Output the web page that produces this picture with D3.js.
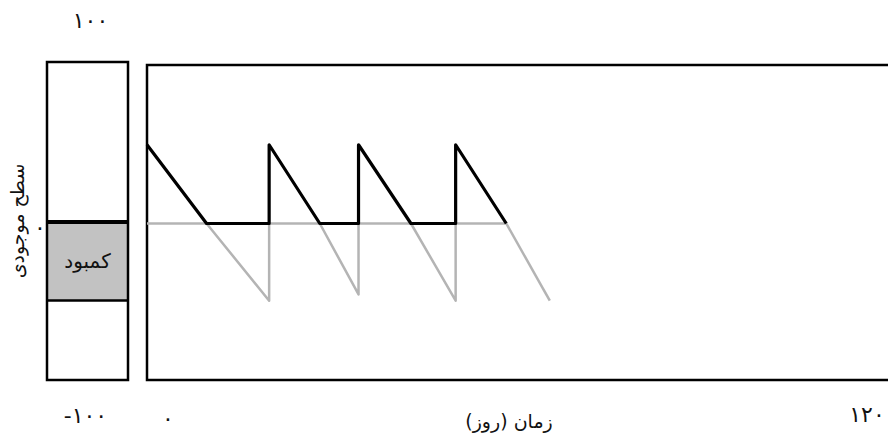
<!DOCTYPE html>
<html lang="fa">
<head>
<meta charset="utf-8">
<script src="https://cdn.jsdelivr.net/npm/d3@7"></script>
<style>
  body { margin: 0; background: #fff; }
  text { font-family: "DejaVu Sans", sans-serif; fill: #111; }
</style>
</head>
<body>
<div id="chart"></div>
<script>
// inventory level with reorder cycles (days, units)
const solidDays   = [0, 10, 20.5, 20.5, 29, 35.5, 35.5, 44.3, 51.8, 51.8, 60.3];
const solidLevels = [50, 0, 0, 50, 0, 0, 50, 0, 0, 50, 0];

// shortage path (grey): one array pair per segment
const greySegments = [
    { days: [0, 60.3], levels: [0, 0] },
    { days: [10, 20.5, 20.5], levels: [0, -49, 0] },
    { days: [29, 35.5, 35.5], levels: [0, -45, 0] },
    { days: [44.3, 51.8, 51.8], levels: [0, -49, 0] },
    { days: [60.3, 67.6], levels: [0, -49] }
];

const shortageBand = [0, -50];       // grey band in side box
const xTickLabels = ["۰", "۱۲۰"];
const yTickLabels = ["۱۰۰", "۰", "-۱۰۰"];
const xTitle = "زمان (روز)";
const yTitle = "سطح موجودی";
const bandLabel = "کمبود";

const width = 888, height = 437;

const svg = d3.select('#chart').append('svg')
    .attr('width', width)
    .attr('height', height);

const x = d3.scaleLinear().domain([0, 120]).range([147, 862]);
const yMain = d3.scaleLinear().domain([-100, 100]).range([381, 66]);
const ySide = d3.scaleLinear().domain([-100, 100]).range([380, 62]);

// side box
const sideX0 = 47, sideX1 = 128;
svg.append('rect')
    .attr('x', sideX0)
    .attr('y', ySide(shortageBand[0]))
    .attr('width', sideX1 - sideX0)
    .attr('height', ySide(shortageBand[1]) - ySide(shortageBand[0]))
    .attr('fill', '#c2c2c2');

svg.append('rect')
    .attr('x', sideX0)
    .attr('y', ySide(100))
    .attr('width', sideX1 - sideX0)
    .attr('height', ySide(-100) - ySide(100))
    .attr('fill', 'none')
    .attr('stroke', '#000')
    .attr('stroke-width', 2.5);

svg.append('line')
    .attr('x1', sideX0).attr('x2', sideX1)
    .attr('y1', ySide(0) + 1).attr('y2', ySide(0) + 1)
    .attr('stroke', '#000')
    .attr('stroke-width', 4);

svg.append('line')
    .attr('x1', sideX0).attr('x2', sideX1)
    .attr('y1', ySide(shortageBand[1])).attr('y2', ySide(shortageBand[1]))
    .attr('stroke', '#000')
    .attr('stroke-width', 2.5);

svg.append('text')
    .attr('x', (sideX0 + sideX1) / 2)
    .attr('y', ySide(-25))
    .attr('dy', '.35em')
    .attr('text-anchor', 'middle')
    .style('font-size', '20px')
    .text(bandLabel);

// main frame (open on the right, runs past the window)
svg.append('path')
    .attr('d', `M${width + 20},${yMain(100) - 1}H${x(0)}V${yMain(-100) - 1}H${width + 20}`)
    .attr('fill', 'none')
    .attr('stroke', '#000')
    .attr('stroke-width', 2.5);

const line = d3.line()
    .x(d => x(d[0]))
    .y(d => yMain(d[1]));

svg.selectAll('.grey')
    .data(greySegments)
    .enter()
    .append('path')
    .attr('class', 'grey')
    .attr('d', s => line(s.days.map((d, i) => [d, s.levels[i]])))
    .attr('fill', 'none')
    .attr('stroke', '#b4b4b4')
    .attr('stroke-width', 2.5)
    .attr('stroke-linejoin', 'round');

svg.append('path')
    .attr('d', line(solidDays.map((d, i) => [d, solidLevels[i]])))
    .attr('fill', 'none')
    .attr('stroke', '#000')
    .attr('stroke-width', 3.2)
    .attr('stroke-linejoin', 'round');

// tick labels
svg.append('text')
    .attr('x', (sideX0 + sideX1) / 2 + 3)
    .attr('y', 20)
    .attr('dy', '.35em')
    .attr('text-anchor', 'middle')
    .style('font-size', '22px')
    .text(yTickLabels[0]);

svg.append('text')
    .attr('x', 40)
    .attr('y', ySide(0) + 6)
    .attr('dy', '.35em')
    .attr('text-anchor', 'middle')
    .style('font-size', '22px')
    .text(yTickLabels[1]);

svg.append('text')
    .attr('x', (sideX0 + sideX1) / 2 - 2)
    .attr('y', 415)
    .attr('dy', '.35em')
    .attr('text-anchor', 'middle')
    .style('font-size', '22px')
    .text(yTickLabels[2]);

svg.selectAll('.x-label')
    .data(xTickLabels)
    .enter()
    .append('text')
    .attr('class', 'x-label')
    .attr('x', (d, i) => i === 0 ? x(0) + 21 : x(120) + 5)
    .attr('y', (d, i) => i === 0 ? 418 : 414)
    .attr('dy', '.35em')
    .attr('text-anchor', 'middle')
    .style('font-size', '22px')
    .text(d => d);

// axis titles
svg.append('text')
    .attr('x', 509)
    .attr('y', 421)
    .attr('dy', '.35em')
    .attr('text-anchor', 'middle')
    .style('font-size', '19px')
    .text(xTitle);

svg.append('text')
    .attr('transform', `translate(17, ${ySide(0)}) rotate(-90)`)
    .attr('dy', '.35em')
    .attr('text-anchor', 'middle')
    .style('font-size', '19px')
    .text(yTitle);
</script>
</body>
</html>
